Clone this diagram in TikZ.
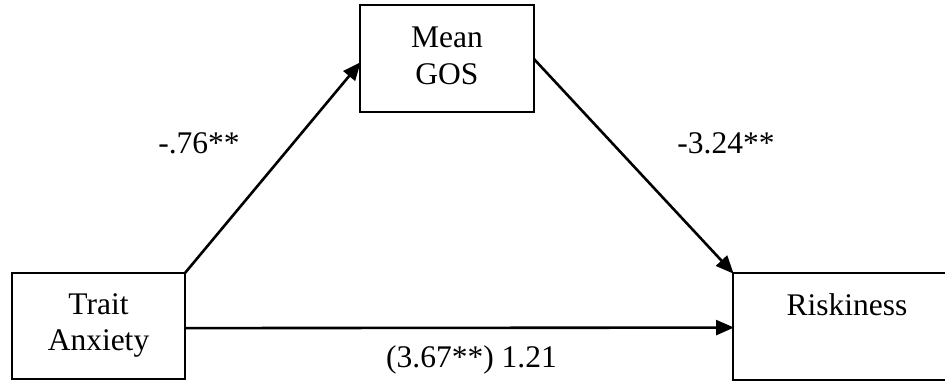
\documentclass[tikz,border=0pt]{standalone}
\usepackage{fontspec}
\setmainfont{Liberation Serif}
\usetikzlibrary{arrows.meta,calc}
\begin{document}
\begin{tikzpicture}[x=1pt,y=-1pt,
  box/.style={draw, line width=2.6pt, inner sep=0pt, outer sep=0pt, anchor=north west},
  txt/.style={font=\fontsize{31.5}{36.5}\selectfont, align=center, inner sep=0pt},
  arr/.style={line width=2.6pt, -{Triangle[length=18pt,width=15pt]}, shorten >=-1pt}
]
\useasboundingbox (0,0) rectangle (945,381);
% boxes
\node[box, minimum width=174pt, minimum height=107pt] (gos) at (360,5) {};
\node[box, minimum width=173pt, minimum height=106pt] (trait) at (12,273) {};
\node[box, minimum width=217pt, minimum height=107pt] (risk) at (733,273) {};
% box texts
\node[txt, anchor=north] (gostext) at ($(gos.north)+(0,22)$) {Mean\\GOS};
\node[txt, anchor=north] (traittext) at ($(trait.north)+(0,20)$) {Trait\\Anxiety};
\node[txt, anchor=north] (risktext) at ($(risk.north)+(5.5,20)$) {Riskiness};
% connectors
\coordinate (gosin) at ($(gos.north west)!0.542!(gos.south west)$);
\coordinate (gosout) at ($(gos.north east)!0.505!(gos.south east)$);
\coordinate (traitout) at ($(trait.north east)!0.52!(trait.south east)$);
\coordinate (riskin) at ($(risk.north west)!0.51!(risk.south west)$);
\draw[arr] (trait.north east) -- (gosin);
\draw[arr] (gosout) -- (risk.north west);
\draw[arr] (traitout) -- (riskin);
% labels
\node[txt, anchor=base] (la) at (199,153) {-.76**};
\node[txt, anchor=base] (lb) at (726,153) {-3.24**};
\node[txt, anchor=base west] (lc) at (386,367) {(3.67**) 1.21};
\end{tikzpicture}
\end{document}
